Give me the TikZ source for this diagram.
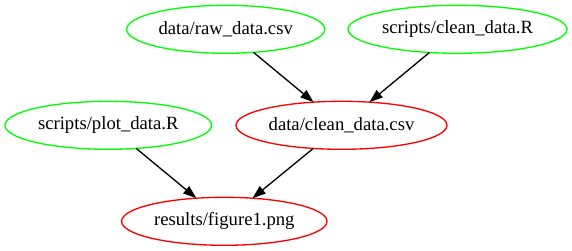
\documentclass[tikz,border=0pt]{standalone}
\usepackage{fontspec}
\setmainfont{Liberation Serif}
\usetikzlibrary{shapes.geometric,arrows.meta}
\definecolor{srcgreen}{RGB}{0,255,0}
\definecolor{outred}{RGB}{255,0,0}
\begin{document}
\begin{tikzpicture}[x=1pt,y=-1pt,
  file/.style={ellipse, draw, line width=1.33pt, inner sep=0pt, outer sep=0pt,
    minimum height=48pt, font=\fontsize{18.67}{22}\selectfont},
  source/.style={file, draw=srcgreen},
  derived/.style={file, draw=outred},
  dep/.style={line width=1.33pt, -{Triangle[length=13.3pt,width=9.3pt]}}]
  \useasboundingbox (0,0) rectangle (572,251);
  % top rank: raw inputs
  \node[source, minimum width=198pt] (raw) at (225.7,29.3) {data/raw\_data.csv};
  \node[source, minimum width=219pt] (cleanR) at (457.5,29.3) {scripts/clean\_data.R};
  % middle rank
  \node[source, minimum width=206.6pt] (plotR) at (108.3,125.3) {scripts/plot\_data.R};
  \node[derived, minimum width=211pt] (cleancsv) at (341.5,125.3) {data/clean\_data.csv};
  % bottom rank: final output
  \node[derived, minimum width=205.4pt] (fig) at (224.3,221.3) {results/figure1.png};
  % dependencies
  \draw[dep] (raw) -- (cleancsv);
  \draw[dep] (cleanR) -- (cleancsv);
  \draw[dep] (plotR) -- (fig);
  \draw[dep] (cleancsv) -- (fig);
\end{tikzpicture}
\end{document}
